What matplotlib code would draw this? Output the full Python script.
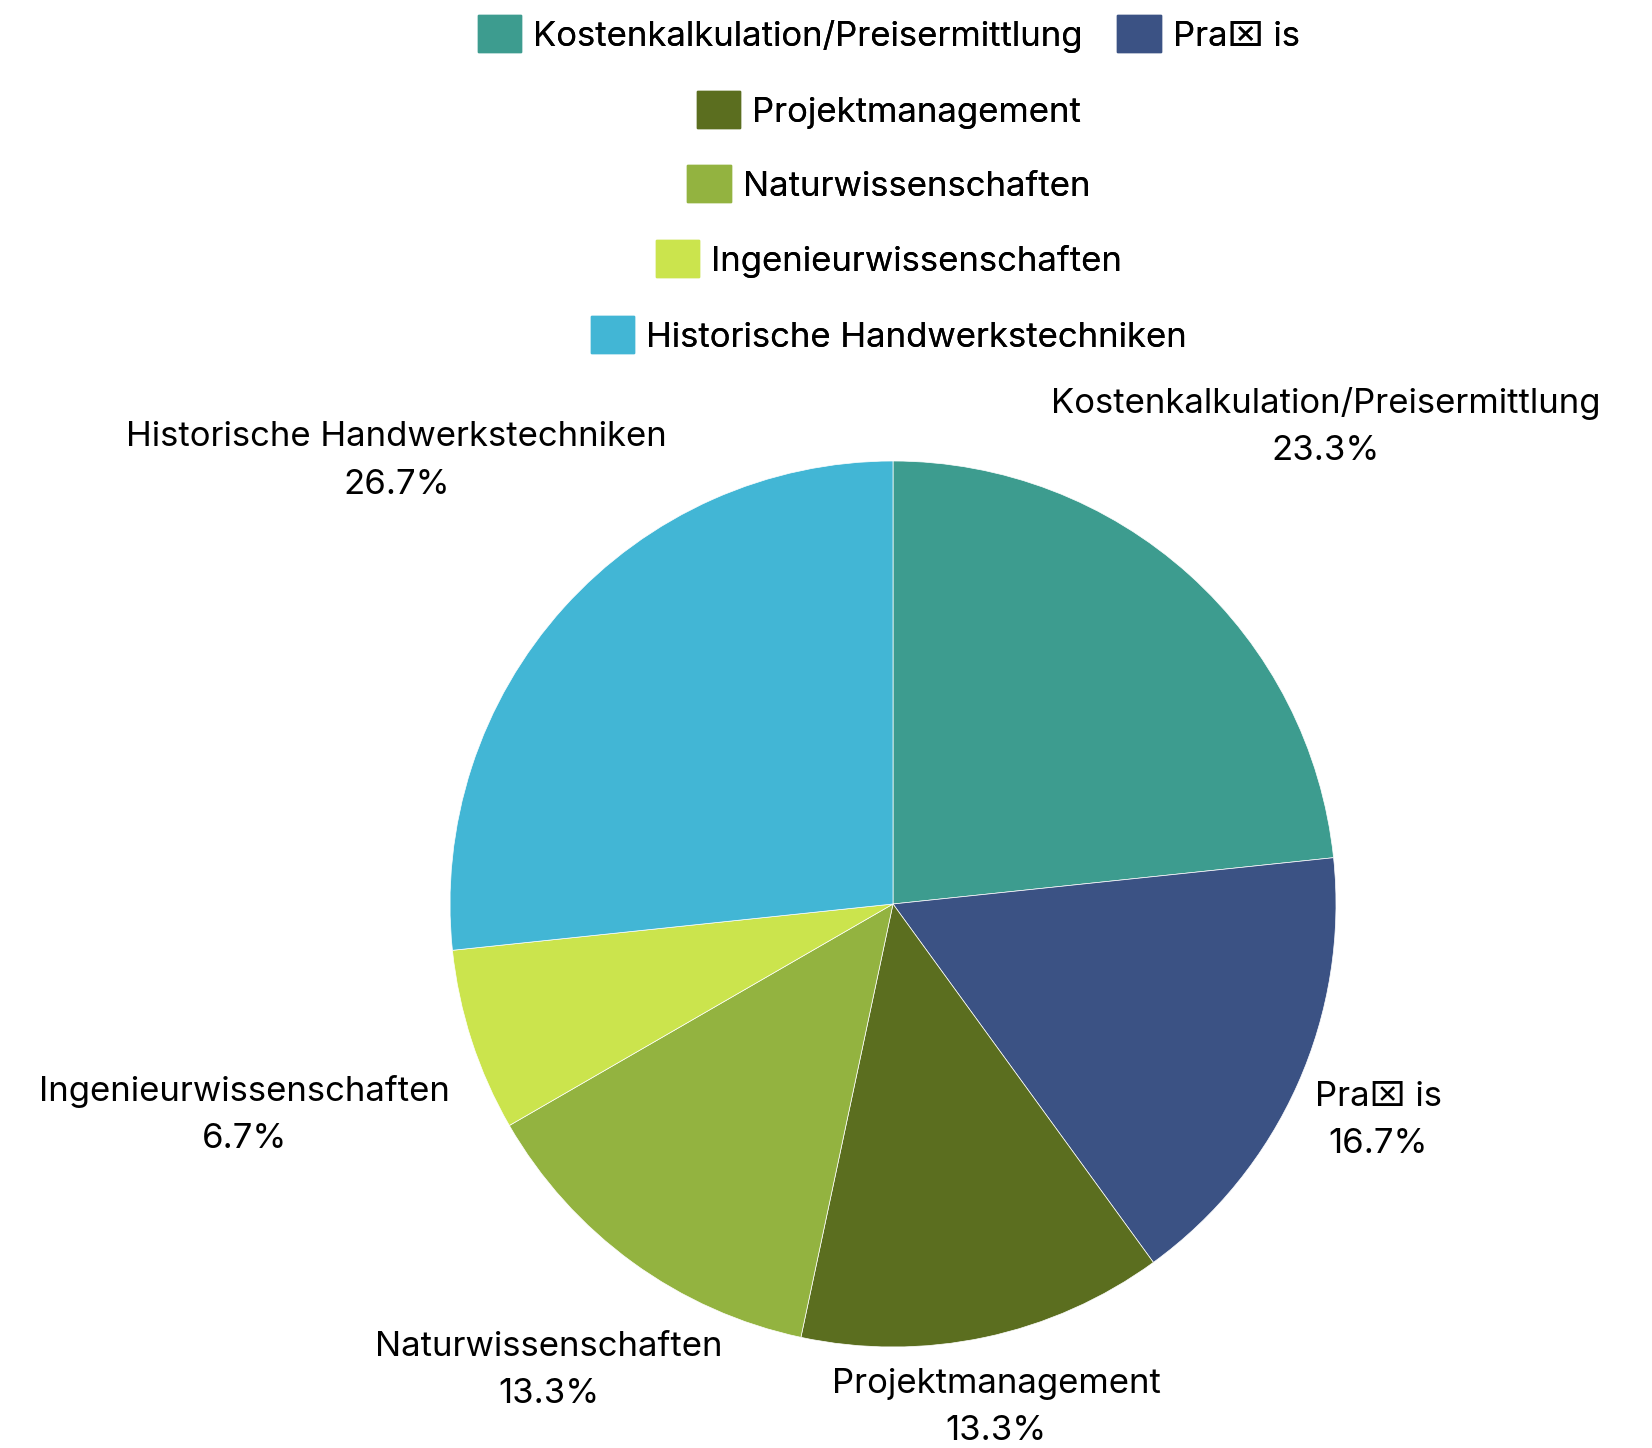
import matplotlib
matplotlib.use("Agg")
import matplotlib.pyplot as plt
from matplotlib.patches import Patch

plt.rcParams['font.family'] = ['Inter', 'DejaVu Sans']

# Anteile (Anzahl Nennungen)
categories = ["Kostenkalkulation/Preisermittlung", "Pra\u2327 is", "Projektmanagement",
              "Naturwissenschaften", "Ingenieurwissenschaften", "Historische Handwerkstechniken"]
counts = [7, 5, 4, 4, 2, 8]
colors = ["#3D9C8F", "#3B5284", "#5B6E1F", "#93B340", "#CBE44D", "#42B6D5"]

# Lage der Beschriftungen (Einheiten des Kreisradius)
label_pos = [(0.976, 1.076), (1.095, -0.488), (0.233, -1.136),
             (-0.776, -1.052), (-1.464, -0.476), (-1.121, 1.0)]

W, H = 1652, 1448
cx, cy, r = 893, 904, 443
fs = 25

fig = plt.figure(figsize=(W / 100, H / 100), dpi=100)
ax = fig.add_axes([0, 0, 1, 1])

wedges, _ = ax.pie(counts, colors=colors, startangle=90, counterclock=False,
                   wedgeprops=dict(linewidth=0.5, edgecolor="white"))

total = sum(counts)
for name, c, (x, y) in zip(categories, counts, label_pos):
    ax.text(x, y, f"{name}\n{100 * c / total:.1f}%", ha="center", va="center",
            fontsize=fs, linespacing=1.6, multialignment="center")

ax.set_aspect("auto")
ax.set_xlim(-cx / r, (W - cx) / r)
ax.set_ylim(-(H - cy) / r, cy / r)
ax.axis("off")

# Legende oben, zeilenweise zentriert
rows = [[0, 1], [2], [3], [4], [5]]
row_y = [34, 110, 184, 259, 335]
for idx, yy in zip(rows, row_y):
    handles = [Patch(facecolor=colors[i], edgecolor=colors[i]) for i in idx]
    leg = fig.legend(handles, [categories[i] for i in idx], ncol=len(idx),
                     loc="center", bbox_to_anchor=(0.538, 1 - yy / H),
                     frameon=False, fontsize=fs, handlelength=1.25, handleheight=1.25,
                     handletextpad=0.35, columnspacing=1.0, borderpad=0, borderaxespad=0)
    fig.add_artist(leg)

fig.savefig("out.png", dpi=100)
